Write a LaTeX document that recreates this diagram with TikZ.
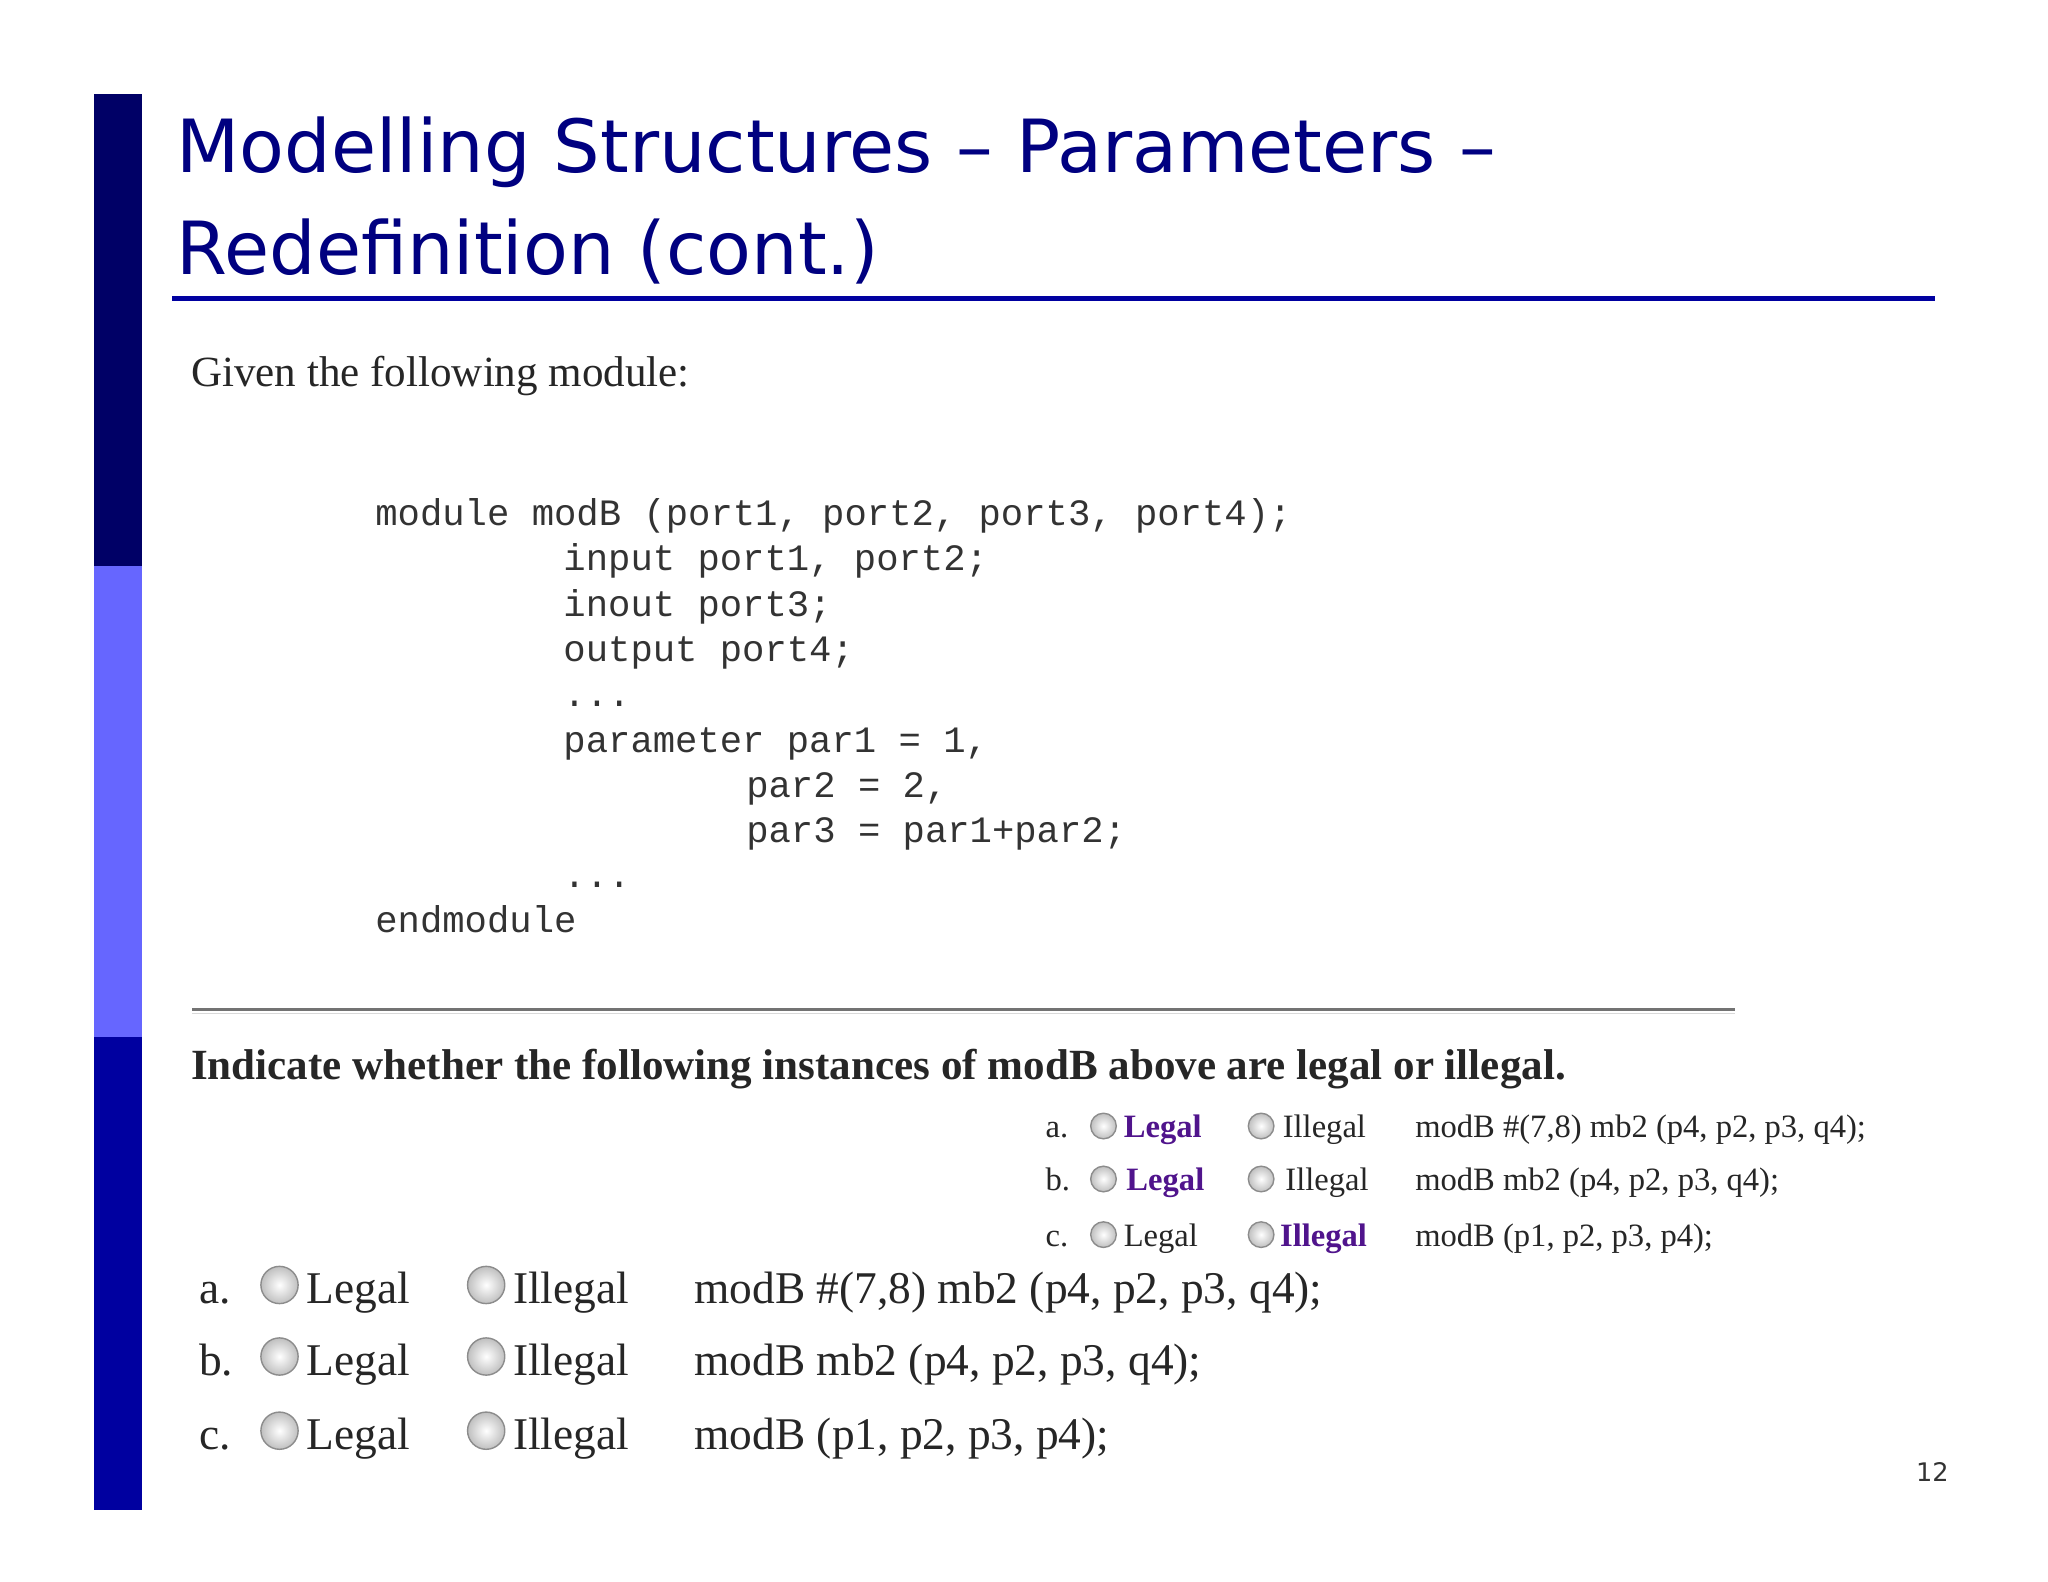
\documentclass[tikz,border=0pt]{standalone}
\usepackage{fontspec}
\setmainfont{Liberation Serif}
\newfontfamily\titlefont{DejaVu Sans}
\setmonofont{Liberation Mono}
\definecolor{navy}{RGB}{0,0,102}
\definecolor{lightb}{RGB}{102,102,255}
\definecolor{midb}{RGB}{0,0,160}
\definecolor{titleb}{RGB}{0,0,128}
\definecolor{purp}{RGB}{80,20,140}
\begin{document}
\begin{tikzpicture}[x=0.02cm,y=-0.02cm,
  tx/.style={anchor=base west,inner sep=0pt},
  code/.style={tx,font=\ttfamily\fontsize{16}{19}\selectfont,text=black!80},
  sm/.style={tx,font=\fontsize{14}{17}\selectfont,text=black!85},
  smb/.style={tx,font=\bfseries\fontsize{14}{17}\selectfont,text=purp},
  lg/.style={tx,font=\fontsize{19.5}{23}\selectfont,text=black!85},
  radio/.style={draw=black!45,inner color=white,outer color=black!25,line width=0.6pt,circle,inner sep=0pt}]
\useasboundingbox (0,0) rectangle (1546,1194);
\fill[white] (0,0) rectangle (1546,1194);
\fill[navy] (71,71) rectangle (107,427);
\fill[lightb] (71,427) rectangle (107,783);
\fill[midb] (71,783) rectangle (107,1140);
\node[tx,font=\titlefont\fontsize{31.5}{38}\selectfont,text=titleb] (t1) at (133,130) {Modelling Structures – Parameters –};
\node[tx,font=\titlefont\fontsize{31.5}{38}\selectfont,text=titleb] (t2) at (133,207) {Redefinition (cont.)};
\draw[line width=2.2pt,midb] (130,225) -- (1461,225);
\node[tx,font=\fontsize{18.5}{22}\selectfont,text=black!85] (given) at (144,292) {Given the following module:};
\node[code] (c1) at (283,397) {module modB (port1, port2, port3, port4);};
\node[code] (c2) at (425,431) {input port1, port2;};
\node[code] (c3) at (425,465) {inout port3;};
\node[code] (c4) at (425,499) {output port4;};
\node[code] (c5) at (425,533) {...};
\node[code] (c6) at (425,568) {parameter par1 = 1,};
\node[code] (c7) at (563,602) {par2 = 2,};
\node[code] (c8) at (563,636) {par3 = par1+par2;};
\node[code] (c9) at (425,670) {...};
\node[code] (c10) at (283,704) {endmodule};
\draw[black!55,line width=1pt] (145,762) -- (1310,762);
\draw[black!15,line width=0.6pt] (145,765) -- (1310,765);
\node[tx,font=\bfseries\fontsize{18.5}{22}\selectfont,text=black!85] (ind) at (144,815) {Indicate whether the following instances of modB above are legal or illegal.};
\foreach \y/\l/\cd [count=\i] in {859/a./{modB \#(7,8) mb2 (p4, p2, p3, q4);},899/b./{modB mb2 (p4, p2, p3, q4);},941/c./{modB (p1, p2, p3, p4);}}{
  \node[sm] (sl\i) at (789,\y) {\l};
  \node[radio,minimum size=11pt] (sr\i) at (833,\y-9) {};
  \node[radio,minimum size=11pt] (si\i) at (952,\y-9) {};
  \node[sm] (sc\i) at (1068,\y) {\cd};
}
\node[smb] (lega) at (848,859) {Legal};
\node[smb] (legb) at (850,899) {Legal};
\node[sm] (legc) at (848,941) {Legal};
\node[sm] (illa) at (968,859) {Illegal};
\node[sm] (illb) at (970,899) {Illegal};
\node[smb] (illc) at (966,941) {Illegal};
\foreach \y/\l/\cd [count=\i] in {984/a./{modB \#(7,8) mb2 (p4, p2, p3, q4);},1038/b./{modB mb2 (p4, p2, p3, q4);},1094/c./{modB (p1, p2, p3, p4);}}{
  \node[lg] (ll\i) at (150,\y) {\l};
  \node[radio,minimum size=16pt] (lr\i) at (211,\y-14) {};
  \node[lg] (lL\i) at (231,\y) {Legal};
  \node[radio,minimum size=16pt] (li\i) at (367,\y-14) {};
  \node[lg] (lI\i) at (387,\y) {Illegal};
  \node[lg] (lc\i) at (524,\y) {\cd};
}
\node[tx,font=\titlefont\fontsize{11}{13}\selectfont,text=black!80] (pg) at (1446,1118) {12};
\end{tikzpicture}
\end{document}
